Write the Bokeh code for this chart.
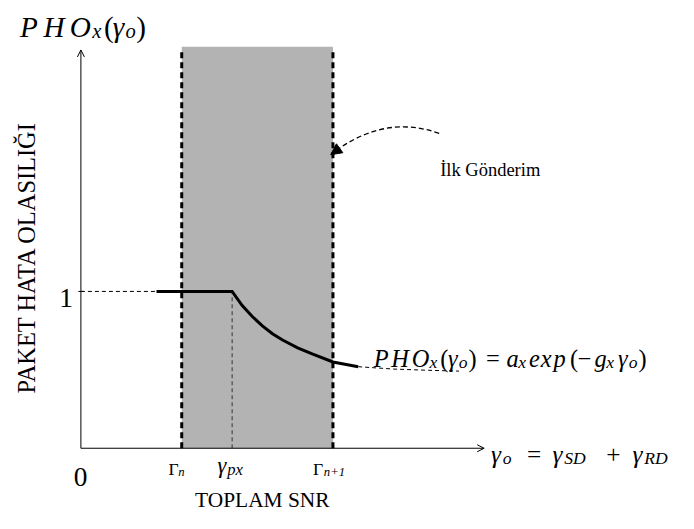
import math
from bokeh.plotting import figure
from bokeh.models import Range1d, Label, Arrow, OpenHead, NormalHead
from bokeh.embed import file_html
from bokeh.resources import INLINE

# ---------------- data (schematic values) ----------------
band_x = [2.0, 5.0]            # Gamma_n, Gamma_{n+1}
band_top = 2.56
border_top = 2.53
gamma_px = 3.0
level_y = 1.0
flat_x = [1.5, 3.0]
flat_y = [1.0, 1.0]
curve_x = [3.0, 3.2, 3.4, 3.6, 3.8, 4.0, 4.3, 4.6, 5.0, 5.5]
curve_y = [1.0, 0.91, 0.84, 0.78, 0.73, 0.69, 0.64, 0.60, 0.55, 0.52]
tail_x = [5.5, 6.2, 6.9, 7.5]
tail_y = [0.52, 0.505, 0.497, 0.492]
x_axis_end = 8.0
y_axis_end = 2.54
ytick_vals = [1.0]
ytick_labels = ["1"]

# ---------------- layout helpers (reference pixel -> data) ----------------
OX, OY, UX, UY = 82.3, 461.7, 51.6, 161.7
def X(px):
    return (px - OX) / UX
def Y(py):
    return (OY - py) / UY

W, H = 678, 513
SC = 0.975  # font scale (canvas slightly smaller than reference)
p = figure(width=W, height=H, x_range=Range1d(X(0), X(694)), y_range=Range1d(Y(529), Y(0)),
           output_backend="svg", toolbar_location=None, min_border=0,
           x_axis_type=None, y_axis_type=None)
p.grid.visible = False
p.outline_line_color = None
p.background_fill_color = "white"

FONT = "'Liberation Serif', 'DejaVu Serif', serif"

# shaded band
p.quad(left=band_x[0], right=band_x[1], bottom=0, top=band_top,
       fill_color="#b3b3b3", line_color=None)
# thick dotted borders
p.segment(x0=band_x, y0=[0, 0], x1=band_x, y1=[border_top, border_top],
          line_width=3, line_dash="6 4", line_color="black")

# axes with open arrow heads
p.add_layout(Arrow(end=OpenHead(size=7, line_width=1, line_color="black"),
                   x_start=0, y_start=0, x_end=x_axis_end, y_end=0,
                   line_width=1, line_color="black"))
p.add_layout(Arrow(end=OpenHead(size=7, line_width=1, line_color="black"),
                   x_start=0, y_start=0, x_end=0, y_end=y_axis_end,
                   line_width=1, line_color="black"))
# y tick
p.segment(x0=[-0.05] * len(ytick_vals), y0=ytick_vals, x1=[0.05] * len(ytick_vals), y1=ytick_vals,
          line_color="black", line_width=1)

# dashed guides
p.line([0, flat_x[0]], [level_y, level_y], line_width=1, line_dash="4 3", line_color="black")
p.line([gamma_px, gamma_px], [0, level_y], line_width=1, line_dash="4 3", line_color="#333333")

# main curve
p.line(flat_x + curve_x[1:], flat_y + curve_y[1:], line_width=3, line_color="black", line_join="miter")
p.line(tail_x, tail_y, line_width=1, line_dash="4 3", line_color="black")

# curved dashed arrow
p.quadratic(x0=X(449), y0=Y(137), x1=X(346), y1=Y(153), cx=X(396), cy=Y(118),
            line_width=1.3, line_dash="5 3", line_color="black")
p.add_layout(Arrow(end=NormalHead(size=11, fill_color="black", line_color="black"),
                   x_start=X(349), y_start=Y(151), x_end=X(338), y_end=Y(159),
                   line_alpha=0))

def T(txt, xp, yp, size, style="italic", align="left", angle=0.0):
    p.add_layout(Label(x=X(xp), y=Y(yp), text=txt, text_font=FONT,
                       text_font_size=f"{size * SC:.1f}px", text_font_style=style,
                       text_align=align, text_baseline="alphabetic",
                       angle=angle, text_color="black"))

# top-left label  PHO_x(gamma_o)
for s, xp, yp, sz, st in [("P", 20, 27, 30, "italic"), ("H", 44, 27, 30, "italic"),
                          ("O", 71, 27, 30, "italic"), ("x", 94, 31, 21, "italic"),
                          ("(", 106, 27, 30, "normal"), ("γ", 115, 27, 30, "italic"),
                          ("o", 128, 31, 21, "italic"), (")", 139, 27, 30, "normal")]:
    T(s, xp, yp, sz, st)

# formula on the right
for s, xp, yp, sz, st in [("P", 382, 369, 25, "italic"), ("H", 400, 369, 25, "italic"),
                          ("O", 421, 369, 25, "italic"), ("x", 439, 373, 18, "italic"),
                          ("(", 450, 369, 25, "normal"), ("γ", 458, 369, 25, "italic"),
                          ("o", 469, 373, 18, "italic"), (")", 479, 369, 25, "normal"),
                          ("=", 497, 369, 25, "normal"), ("a", 518, 369, 25, "italic"),
                          ("x", 530, 373, 18, "italic"), ("e", 541, 369, 25, "italic"),
                          ("x", 553, 369, 25, "italic"), ("p", 566, 369, 25, "italic"),
                          ("(", 583, 369, 25, "normal"), ("−", 591, 369, 25, "normal"),
                          ("g", 608, 369, 25, "italic"), ("x", 620, 373, 18, "italic"),
                          ("γ", 632, 369, 25, "italic"), ("o", 643, 373, 18, "italic"),
                          (")", 653, 369, 25, "normal")]:
    T(s, xp, yp, sz, st)

# x-axis end label
for s, xp, yp, sz, st in [("γ", 502, 468, 26, "italic"), ("o", 514, 472, 18, "italic"),
                          ("=", 539, 468, 26, "normal"), ("γ", 565, 468, 26, "italic"),
                          ("SD", 577, 472, 18, "italic"), ("+", 620, 468, 26, "normal"),
                          ("γ", 647, 468, 26, "italic"), ("RD", 659, 472, 18, "italic")]:
    T(s, xp, yp, sz, st)

# x tick labels
T("Γ", 172, 483, 18, "normal"); T("n", 182, 486, 13, "italic")
T("γ", 222, 480, 23, "italic"); T("px", 232, 484, 17, "italic")
T("Γ", 320, 483, 18, "normal"); T("n+1", 331, 486, 13, "italic")
T("0", 82, 491, 28, "normal", align="center")
for v, lab in zip(ytick_vals, ytick_labels):
    p.add_layout(Label(x=X(74), y=v, y_offset=-7, text=lab, text_font=FONT,
                       text_font_size=f"{28 * SC:.1f}px",
                       text_align="right", text_baseline="alphabetic", text_color="black"))

# axis titles
T("TOPLAM SNR", 268, 515, 22, "normal", align="center")
T("PAKET HATA OLASILIĞI", 26.5, 265, 25, "normal", align="center", angle=math.pi / 2)

# annotation
T("İlk Gönderim", 450, 175, 19, "normal")

open("out.html", "w").write(file_html(p, INLINE))
